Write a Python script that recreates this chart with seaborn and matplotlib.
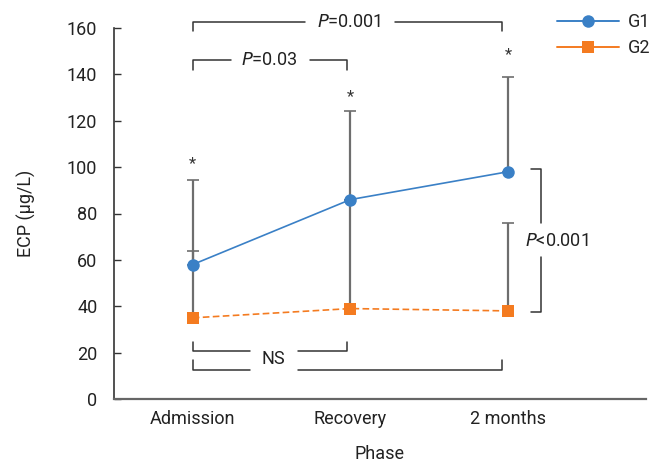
import matplotlib
matplotlib.use("Agg")
import matplotlib.pyplot as plt
from matplotlib.lines import Line2D
import seaborn as sns
import pandas as pd
import numpy as np

phases = ["Admission", "Recovery", "2 months"]
g1_mean = [58, 86, 98]
g1_upper = [94.5, 124, 139]
g2_mean = [35, 39, 38]
g2_upper = [64, 86, 76]
groups = ["G1", "G2"]
yticks = [0, 20, 40, 60, 80, 100, 120, 140, 160]

sns.set_theme(style="white")
plt.rcParams['font.family'] = ['Roboto', 'DejaVu Sans']

BLUE = "#3a80c6"
ORANGE = "#f47b20"
GRAY = "#6e6e6e"
DARK = "#333333"
TXT = "#222222"
FS = 13

df = pd.DataFrame({
    "Phase": phases * 2,
    "ECP": g1_mean + g2_mean,
    "Group": ["G1"] * 3 + ["G2"] * 3,
})
df["x"] = np.tile(np.arange(len(phases)), 2)

fig = plt.figure(figsize=(6.49, 4.62), dpi=100)
ax = fig.add_axes([114/649, 63/462, (646-114)/649, (399-28)/462])

xs = np.arange(len(phases))
ax.errorbar(xs, g2_mean, yerr=[np.zeros(3), np.array(g2_upper) - np.array(g2_mean)],
            fmt='none', ecolor=GRAY, elinewidth=1.6, capsize=4, capthick=1.2, zorder=2)
ax.errorbar(xs, g1_mean, yerr=[np.zeros(3), np.array(g1_upper) - np.array(g1_mean)],
            fmt='none', ecolor=GRAY, elinewidth=1.6, capsize=4, capthick=1.2, zorder=2)

sns.lineplot(data=df, x="x", y="ECP", hue="Group", style="Group",
             palette={"G1": BLUE, "G2": ORANGE},
             markers={"G1": "o", "G2": "s"},
             dashes={"G1": (None, None), "G2": (4, 2)},
             markersize=9, markeredgewidth=0, linewidth=1.2, ax=ax, zorder=3,
             legend=False)

ax.set_xlim(-0.50, 2.876)
ax.set_ylim(0, 160)
ax.set_yticks(yticks)
ax.set_xticks(xs)
ax.set_xticklabels(phases)
ax.set_xlabel("Phase", fontsize=FS, color=TXT, labelpad=12)
ax.set_ylabel("ECP (μg/L)", fontsize=FS, color=TXT, labelpad=22)
ax.tick_params(axis='y', direction='in', length=5, width=1, color=DARK, labelsize=FS,
               labelcolor=TXT, pad=12, left=True)
ax.tick_params(axis='x', length=0, labelsize=FS, labelcolor=TXT, pad=8)
for s in ["top", "right"]:
    ax.spines[s].set_visible(False)
ax.spines["left"].set_color(DARK)
ax.spines["bottom"].set_color("#666666")
ax.spines["left"].set_linewidth(1.2)
ax.spines["bottom"].set_linewidth(1.6)

handles = [Line2D([], [], color=BLUE, marker="o", markersize=9, markeredgewidth=0, lw=1.4),
           Line2D([], [], color=ORANGE, marker="s", markersize=9, markeredgewidth=0, lw=1.4)]
ax.legend(handles=handles, labels=groups,
          loc="upper left", bbox_to_anchor=(550/649, 1 - 6/462),
          bbox_transform=fig.transFigure, frameon=False, fontsize=FS,
          handlelength=3.4, handletextpad=0.5, labelspacing=0.45, borderaxespad=0)

lw = 1.1
kw = dict(color=DARK, lw=lw, clip_on=False)
def px2x(p):
    return (p - 193) / 157.5

y1, y1e = 162.6, 158.7
ax.plot([0, 0, px2x(305)], [y1e, y1, y1], **kw)
ax.plot([px2x(395), px2x(502), px2x(502)], [y1, y1, y1e], **kw)
ax.text(px2x(349), y1, r"$\it{P}$=0.001", ha="center", va="center", fontsize=FS, color=TXT)

y2, y2e = 146.2, 141.9
ax.plot([0, 0, px2x(231)], [y2e, y2, y2], **kw)
ax.plot([px2x(310), px2x(347), px2x(347)], [y2, y2, y2e], **kw)
ax.text(px2x(270), y2, r"$\it{P}$=0.03", ha="center", va="center", fontsize=FS, color=TXT)

y3, y3e = 20.7, 24.6
ax.plot([0, 0, px2x(250)], [y3e, y3, y3], **kw)
ax.plot([px2x(298), px2x(347), px2x(347)], [y3, y3, y3e], **kw)
y4, y4e = 12.5, 16.8
ax.plot([0, 0, px2x(250)], [y4e, y4, y4], **kw)
ax.plot([px2x(298), px2x(502), px2x(502)], [y4, y4, y4e], **kw)
ax.text(px2x(273), 17.3, "NS", ha="center", va="center", fontsize=FS, color=TXT)

xb, xt = px2x(541), px2x(531)
ax.plot([xt, xb, xb], [99.2, 99.2, 75.9], **kw)
ax.plot([xb, xb, xt], [61.2, 37.5, 37.5], **kw)
ax.text(px2x(525), 68, r"$\it{P}$<0.001", ha="left", va="center", fontsize=FS, color=TXT)

for xi, yv in zip(xs, [101.5, 130.5, 148.5]):
    ax.text(xi, yv, "*", ha="center", va="center", fontsize=12, color="#333333")

fig.savefig("out.png", dpi=100)
